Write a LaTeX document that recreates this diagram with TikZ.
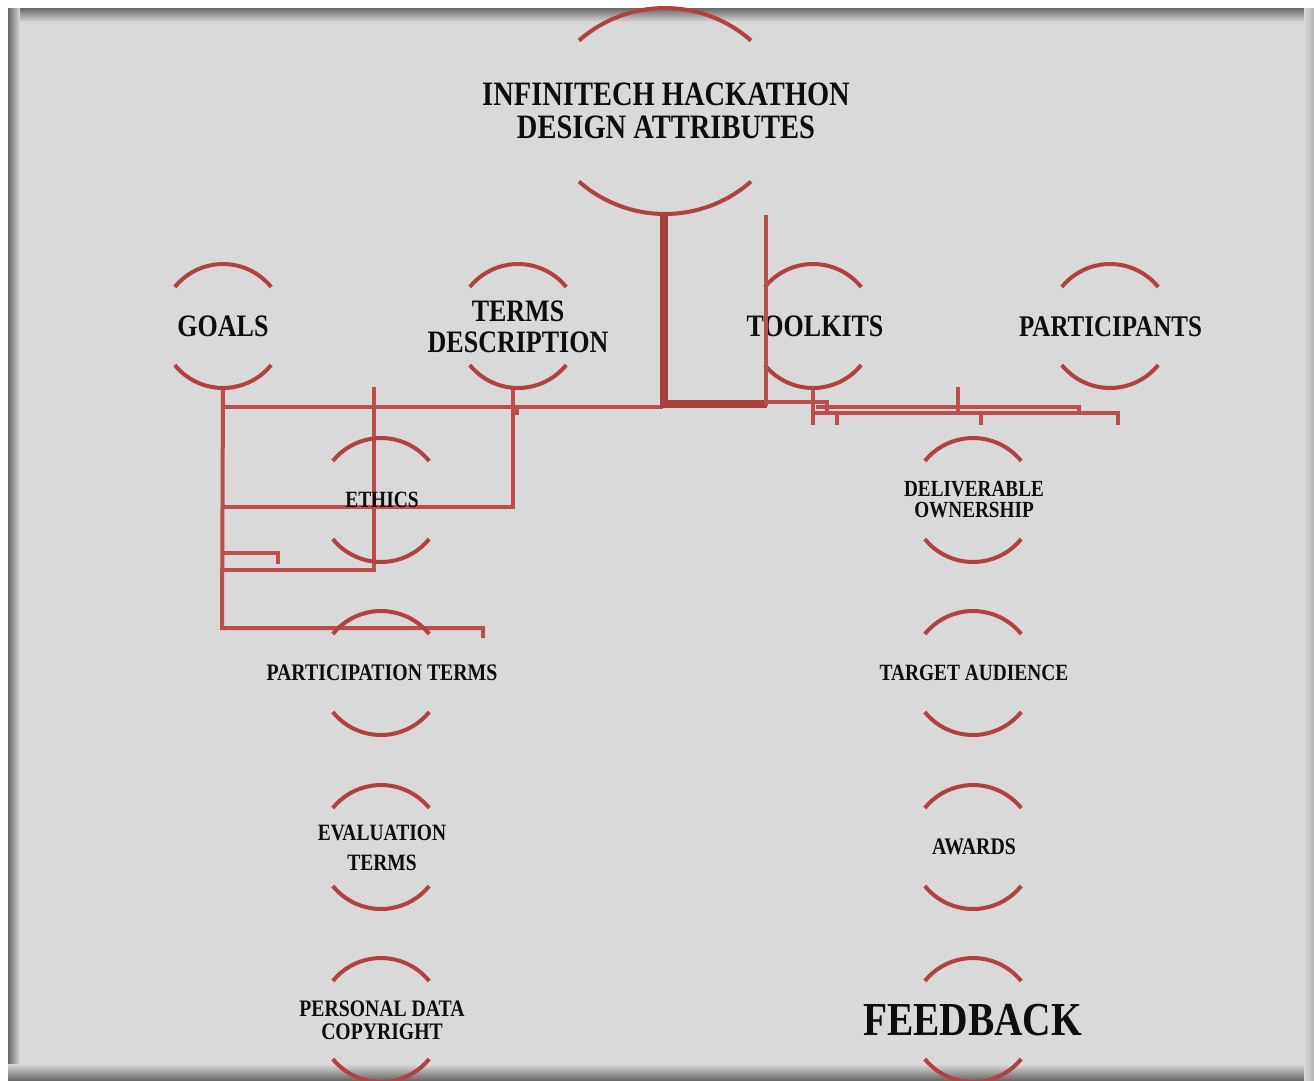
\documentclass[tikz,border=0pt]{standalone}
\usepackage{fontspec}
\setmainfont{Liberation Serif}
\usepackage{graphicx}
\definecolor{bg}{RGB}{217,217,217}
\definecolor{edge}{RGB}{105,105,105}
\definecolor{arcred}{RGB}{178,66,66}
\definecolor{connred}{RGB}{190,78,78}
\definecolor{thickred}{RGB}{168,64,64}
\tikzset{
  ring/.style={circle, inner sep=0pt, outer sep=0pt, minimum size=124pt},
  bigring/.style={circle, inner sep=0pt, outer sep=0pt, minimum size=206pt},
  arcline/.style={draw=arcred, line width=4pt},
  conn/.style={draw=connred, line width=4pt},
  thickconn/.style={draw=thickred, line width=8pt},
  txtnode/.style={inner sep=0pt, outer sep=0pt, text=black!95},
}
\newcommand\lbltxt[3]{\scalebox{1}[1.2]{\fontsize{#1pt}{#2pt}\selectfont\bfseries\begin{tabular}{@{}c@{}}#3\end{tabular}}}
\newcommand\lbl[6]{%
  \node[txtnode] (#1) at ({#2},{#3-0.16*#4}) {\lbltxt{#4}{#5}{#6}};
}
\newcommand\rings[1]{%
  \draw[arcline] (#1.39) arc[start angle=39,end angle=141,radius=62];
  \draw[arcline] (#1.219) arc[start angle=219,end angle=321,radius=62];
}
\begin{document}
\begin{tikzpicture}[x=1pt,y=1pt]
\useasboundingbox (0,0) rectangle (1314,-1080);
% page and panel
\fill[white] (0,0) rectangle (1314,-1080);
\fill[bg] (8,-8) rectangle (1314,-1080);
\shade[top color=edge, bottom color=bg] (8,-8) rectangle (1314,-22);
\shade[left color=edge, right color=bg] (8,-8) rectangle (20,-1080);
\shade[top color=bg, bottom color=edge] (8,-1064) rectangle (1314,-1080);
\shade[left color=bg, right color=black!30] (1304,-8) rectangle (1314,-1080);

% circle nodes
\node[bigring] (titleC) at (665,-111) {};
\node[ring] (goalsC) at (223,-326) {};
\node[ring] (termsC) at (518,-326) {};
\node[ring] (toolkitsC) at (813,-326) {};
\node[ring] (partC) at (1110,-326) {};
\node[ring] (ethicsC) at (381,-500) {};
\node[ring] (ptermsC) at (381,-673) {};
\node[ring] (evalC) at (381,-847) {};
\node[ring] (persC) at (381,-1020) {};
\node[ring] (delivC) at (973,-500) {};
\node[ring] (targetC) at (973,-673) {};
\node[ring] (awardsC) at (973,-847) {};
\node[ring] (feedC) at (973,-1020) {};

% free ends of connectors
\coordinate (g1) at (222,-628);
\coordinate (g2) at (483,-628);
\coordinate (g3) at (483,-638);
\coordinate (m1) at (222,-407);
\coordinate (m2) at (513,-407);
\coordinate (t1) at (513,-389);
\coordinate (t2) at (513,-507);
\coordinate (t3) at (222,-507);
\coordinate (e1) at (374,-387);
\coordinate (e2) at (374,-570);
\coordinate (e3) at (222,-570);
\coordinate (s1) at (222,-553);
\coordinate (s2) at (278,-553);
\coordinate (s3) at (278,-564);
\coordinate (n1) at (517,-415);
\coordinate (n2) at (517,-407);
\coordinate (n3) at (663,-407);
\coordinate (k1) at (664,-214);
\coordinate (k2) at (664,-404);
\coordinate (k3) at (767,-404);
\coordinate (v1) at (766,-215);
\coordinate (v2) at (766,-406);
\coordinate (r1) at (766,-402);
\coordinate (r2) at (827,-402);
\coordinate (r3) at (827,-412);
\coordinate (tk) at (813,-425);
\coordinate (p1) at (816,-407);
\coordinate (p2) at (1079,-407);
\coordinate (p3) at (1079,-414);
\coordinate (q1) at (958,-387);
\coordinate (q2) at (958,-414);
\coordinate (w1) at (814,-413);
\coordinate (w2) at (1118,-413);
\coordinate (w3) at (1118,-425);
\coordinate (d1) at (837,-413);
\coordinate (d2) at (837,-425);
\coordinate (d3) at (981,-413);
\coordinate (d4) at (981,-425);

% connectors
\draw[conn] (goalsC.south) -- (g1) -- (g2) -- (g3);
\draw[conn] (m1) -- (m2);
\draw[conn] (t1) -- (t2) -- (t3);
\draw[conn] (e1) -- (e2) -- (e3);
\draw[conn] (s1) -- (s2) -- (s3);
\draw[conn] (n1) -- (n2) -- (n3);
\draw[thickconn] (k1) -- (k2) -- (k3);
\draw[conn] (r1) -- (r2) -- (r3);
\draw[conn] (toolkitsC.south) -- (tk);
\draw[conn] (p1) -- (p2) -- (p3);
\draw[conn] (q1) -- (q2);
\draw[conn] (w1) -- (w2) -- (w3);
\draw[conn] (d1) -- (d2);
\draw[conn] (d3) -- (d4);

% arcs
\draw[arcline] ([shift={(48.6:130)}]665,-138) arc[start angle=48.6,end angle=131.4,radius=130];
\draw[arcline] ([shift={(228.6:130)}]665,-84) arc[start angle=228.6,end angle=311.4,radius=130];
\rings{goalsC}
\rings{termsC}
\rings{toolkitsC}
\rings{partC}
\rings{ethicsC}
\rings{ptermsC}
\rings{evalC}
\rings{persC}
\rings{delivC}
\rings{targetC}
\rings{awardsC}
\rings{feedC}

% labels
\lbl{title}{666}{-111}{28.5}{27.5}{INFINITECH HACKATHON\\DESIGN ATTRIBUTES}
\lbl{goals}{223}{-326}{26}{25.8}{GOALS}
\lbl{terms}{518}{-326.5}{26}{25.8}{TERMS\\DESCRIPTION}
\lbl{toolkits}{815}{-326}{26}{25.8}{TOOLKITS}
\lbl{participants}{1110.5}{-326}{25}{25}{PARTICIPANTS}
\lbl{ethics}{382}{-500}{19.4}{17.5}{ETHICS}
\lbl{pterms}{382}{-673}{19.8}{17.5}{PARTICIPATION TERMS}
\lbl{eval}{382}{-846}{19.5}{25}{EVALUATION\\TERMS}
\lbl{pers}{382}{-1020.5}{19.7}{19.2}{PERSONAL DATA\\COPYRIGHT}
\lbl{deliv}{974}{-499.5}{19.2}{17.5}{DELIVERABLE\\OWNERSHIP}
\lbl{target}{974}{-673}{19.4}{17.5}{TARGET AUDIENCE}
\lbl{awards}{974}{-847}{19.8}{17.5}{AWARDS}
\lbl{feedback}{972.5}{-1020}{39.4}{35}{FEEDBACK}

% line drawn over the TOOLKITS label
\draw[conn] (v1) -- (v2);
\end{tikzpicture}
\end{document}
